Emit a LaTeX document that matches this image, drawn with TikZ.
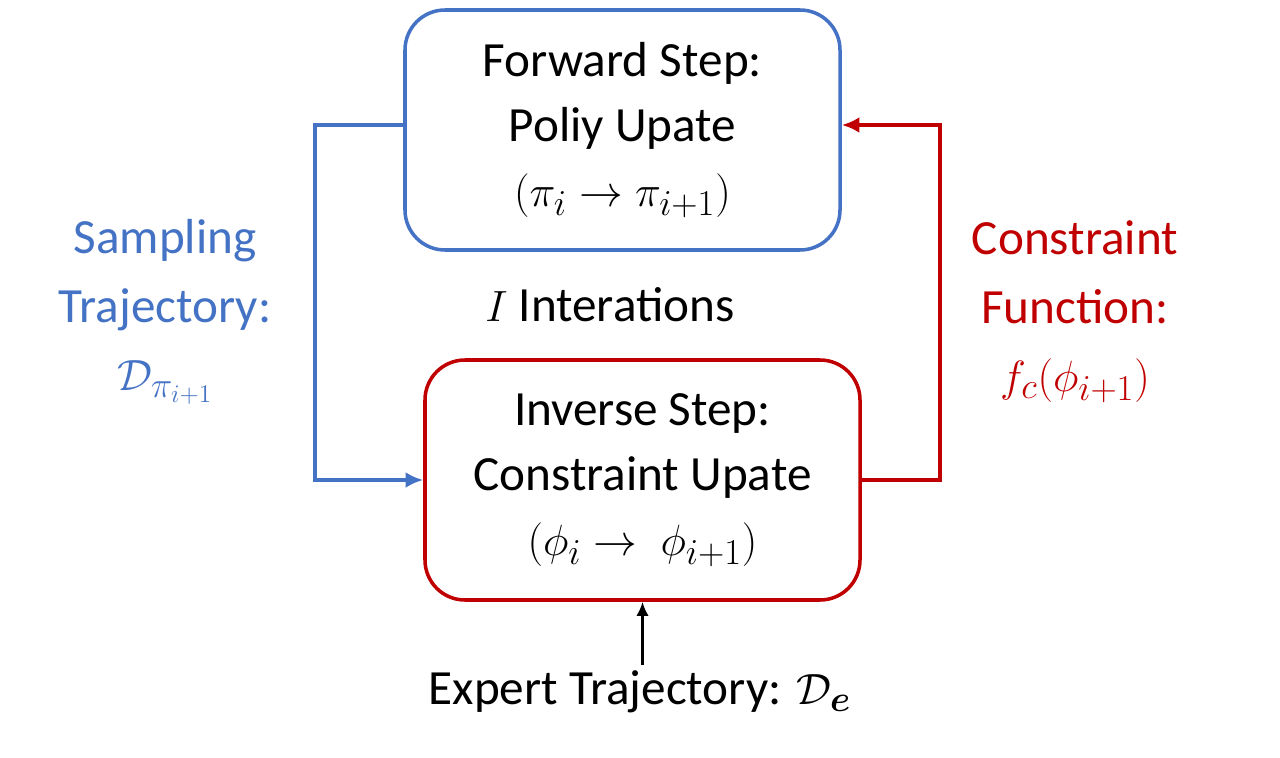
\documentclass[tikz,border=0pt]{standalone}
\usepackage{amsmath,amssymb,bm}
\usepackage{fontspec}
\setmainfont{Carlito}
\usetikzlibrary{positioning,arrows.meta}
\definecolor{stepblue}{RGB}{68,114,196}
\definecolor{stepred}{RGB}{192,0,0}
\tikzset{
  stepbox/.style={draw,line width=2pt,rounded corners=0.8cm,minimum width=8.7cm,minimum height=4.8cm,inner sep=0pt,align=center,font=\fontsize{28}{37}\selectfont},
  flow/.style={line width=2pt,-{Latex[length=10pt,width=9pt]}},
  lbl/.style={align=center,font=\fontsize{28}{39}\selectfont}
}
\begin{document}
\begin{tikzpicture}
		\useasboundingbox (0,0) rectangle (25.6,15.14);
		% Steps
		\node[stepbox,stepblue] (fwd) at (12.45,12.54) {\color{black}Forward Step:\\\color{black}Poliy Upate\\\color{black}$(\pi_i\rightarrow\pi_{i+1})$};
		\node[stepbox,stepred] (inv) at (12.85,5.54) {\color{black}Inverse Step:\\\color{black}Constraint Upate\\\color{black}$(\phi_i\rightarrow\ \phi_{i+1})$};
		\node[lbl] (iter) at (12.2,9.04) {$I$ Interations};

		% Loop
		\coordinate (lt) at (6.3,12.64);
		\coordinate (lb) at (6.3,5.54);
		\coordinate (rb) at (18.8,5.54);
		\coordinate (rt) at (18.8,12.64);
		\draw[flow,stepblue] (fwd.west |- lt) -- (lt) -- (lb) -- (inv.west);
		\draw[flow,stepred] (inv.east) -- (rb) -- (rt) -- (fwd.east |- rt);
		\node[lbl,stepblue] (samp) at (3.3,8.9) {Sampling\\Trajectory:\\$\mathcal{D}_{\pi_{i+1}}$};
		\node[lbl,stepred] (cons) at (21.5,8.9) {Constraint\\Function:\\$f_c(\phi_{i+1})$};

		% Expert data
		\node[lbl] (exp) at (12.8,1.3) {Expert Trajectory: $\mathcal{D}_{\bm{e}}$};
		\draw[line width=1.4pt,-{Latex[length=8pt,width=7pt]}] (exp.north -| inv.south) -- (inv.south);
	\end{tikzpicture}
\end{document}
